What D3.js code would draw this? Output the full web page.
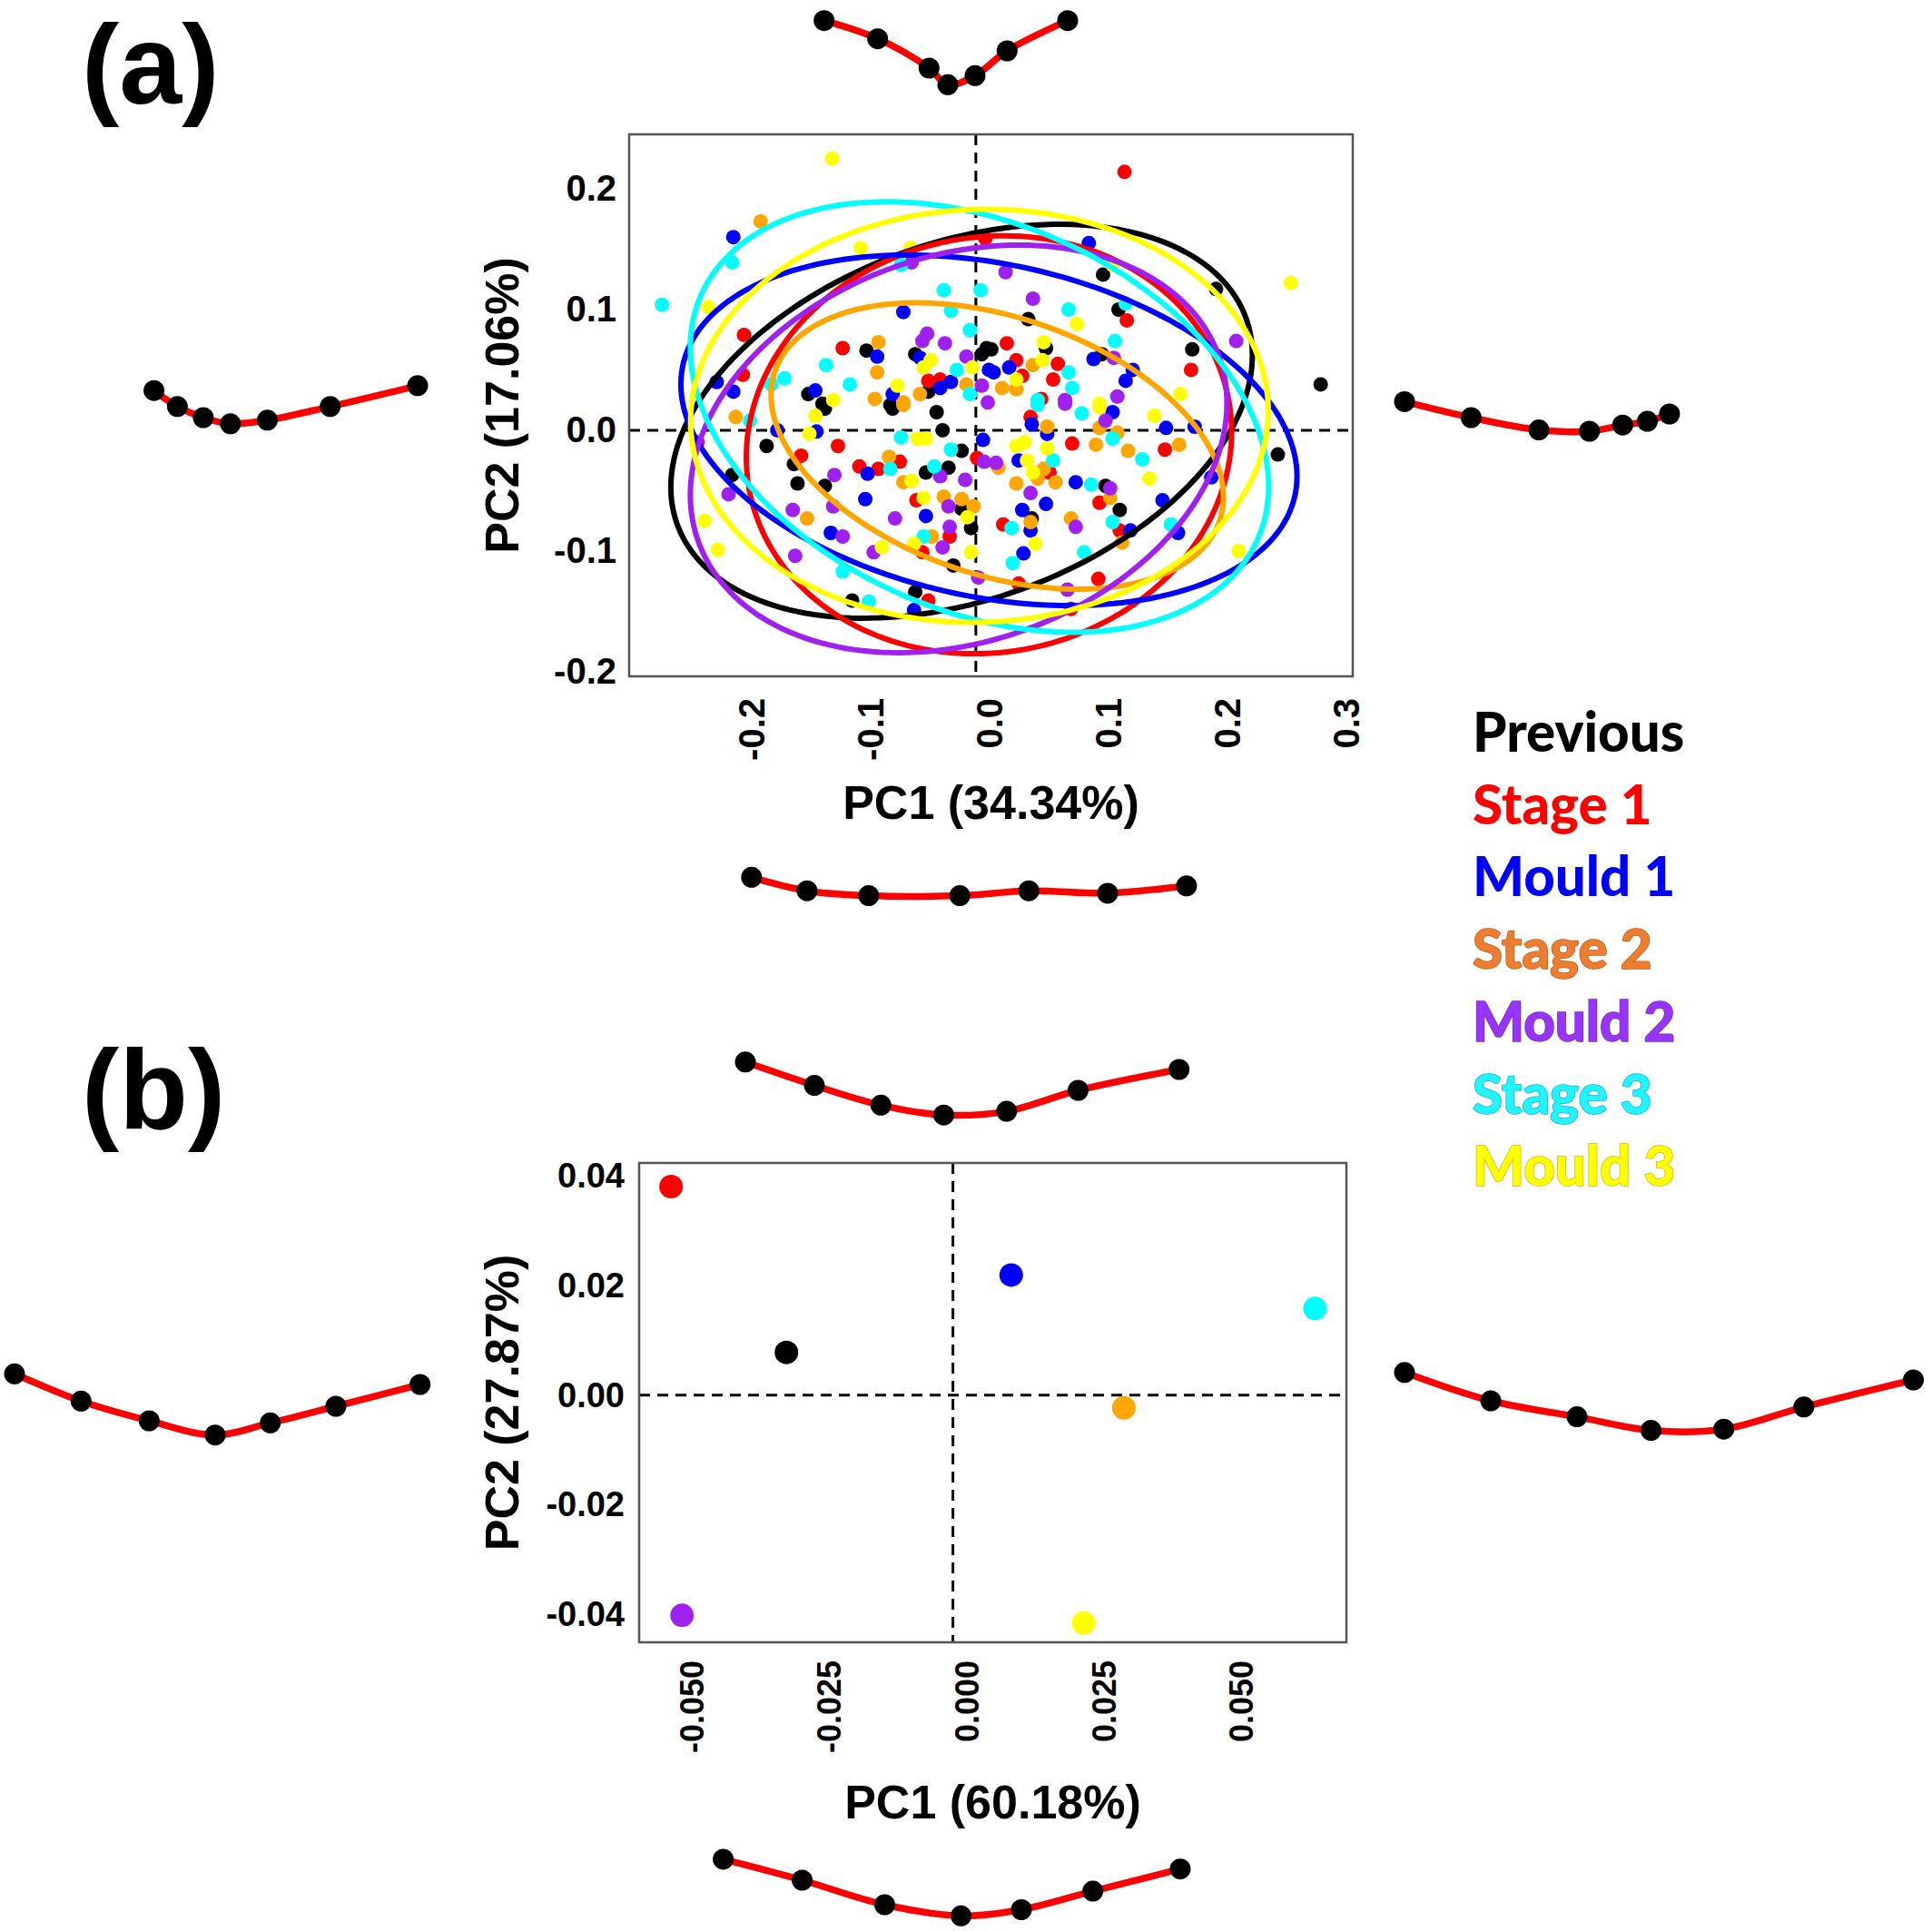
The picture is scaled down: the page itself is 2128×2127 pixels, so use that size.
<!DOCTYPE html>
<html>
<head>
<meta charset="utf-8">
<script src="https://cdn.jsdelivr.net/npm/d3@7/dist/d3.min.js"></script>
<style>
html,body{margin:0;padding:0;background:#ffffff;}
svg{display:block;}
</style>
</head>
<body>
<svg id="fig" width="2128" height="2127" xmlns="http://www.w3.org/2000/svg"></svg>
<script>
// ================= DATA =================
const groups = ["Previous", "Stage 1", "Mould 1", "Stage 2", "Mould 2", "Stage 3", "Mould 3"];
const groupColors = ["#000000", "#FF0000", "#0000FF", "#FFA500", "#A020F0", "#00FFFF", "#FFFF00"];
const legendFill = ["#000000", "#FF0000", "#0000FF", "#ED7D31", "#9933FF", "#22F5FF", "#FFFF00"];
const legendStroke = ["none", "none", "none", "#C55A11", "#7030A0", "#00B0F0", "#D4B800"];

// Panel (a): individual PCA scores [PC1, PC2]
const previousPts = [[-0.092,0.066],[-0.051,0.063],[0.009,0.068],[0.005,0.063],[-0.040,0.032],[-0.141,0.030],[-0.129,0.022],[-0.072,0.021],
  [0.290,0.038],[0.107,0.129],[0.202,0.117],[0.120,0.100],[0.044,0.092],[0.182,0.067],[0.106,0.063],[0.013,0.067],[0.059,0.068],
  [-0.127,0.018],[-0.070,0.018],[-0.033,0.015],[-0.028,0.000],[-0.176,-0.013],[-0.153,-0.028],[-0.012,-0.017],[-0.042,-0.035],[-0.023,-0.031],
  [-0.205,-0.037],[-0.150,-0.044],[-0.127,-0.046],[-0.012,-0.065],[-0.004,-0.081],[-0.019,-0.112],[-0.051,-0.134],[-0.104,-0.141],
  [0.254,-0.020],[0.109,-0.046],[0.121,-0.066],[0.047,-0.073]];
const stage1Pts = [[-0.195,0.079],[-0.112,0.068],[-0.196,0.046],[-0.040,0.041],[-0.030,0.042],[0.008,0.159],
  [0.125,0.214],[0.127,0.091],[0.181,0.050],[0.026,0.072],[0.034,0.058],[0.069,0.055],[0.065,0.042],[0.039,0.045],[0.055,0.026],
  [-0.116,-0.013],[-0.147,-0.021],[-0.064,-0.026],[0.001,-0.023],[-0.098,-0.030],[-0.082,-0.032],[-0.050,-0.058],[-0.022,-0.088],[-0.045,-0.101],[-0.040,-0.141],
  [0.046,0.011],[0.159,-0.016],[0.081,-0.011],[0.062,-0.035],[0.104,-0.060],[0.023,-0.078],[0.121,-0.083],[0.036,-0.127],[0.103,-0.123],[0.080,-0.148]];
const mould1Pts = [[-0.204,0.160],[-0.061,0.098],[-0.083,0.061],[-0.047,0.060],[0.011,0.050],[-0.218,0.040],[-0.204,0.032],[-0.021,0.040],[-0.030,0.035],[-0.135,0.033],[-0.070,0.030],
  [0.095,0.155],[0.099,0.059],[0.028,0.052],[0.015,0.048],[0.126,0.041],[0.132,0.050],
  [-0.167,0.000],[-0.134,-0.001],[0.006,-0.008],[-0.091,-0.036],[-0.093,-0.057],[-0.042,-0.071],[-0.122,-0.085],[-0.052,-0.149],
  [0.115,0.015],[0.047,0.005],[0.060,-0.003],[0.160,0.002],[0.184,0.003],[0.036,-0.025],[0.084,-0.043],[0.198,-0.039],[0.059,-0.061],[0.157,-0.058],
  [0.039,-0.066],[0.046,-0.083],[0.130,-0.083],[0.170,-0.085],[0.040,-0.102]];
const stage2Pts = [[-0.181,0.173],[-0.082,0.073],[-0.083,0.048],[-0.008,0.038],[-0.085,0.026],[-0.061,0.023],[-0.047,0.030],
  [0.048,0.054],[0.022,0.035],[0.034,0.034],
  [-0.202,0.011],[-0.061,0.021],[-0.073,-0.022],[-0.061,-0.043],[-0.027,-0.055],[-0.012,-0.057],[-0.002,-0.063],[-0.142,-0.073],[-0.037,-0.088],
  [0.060,0.003],[0.104,0.002],[0.119,-0.002],[0.101,-0.012],[0.128,-0.017],[0.171,-0.012],[0.019,-0.031],[0.057,-0.032],[0.052,-0.040],
  [0.067,-0.043],[0.034,-0.044],[0.113,-0.056],[0.046,-0.076],[0.080,-0.073],[0.123,-0.093]];
const mould2Pts = [[-0.054,0.139],[-0.041,0.080],[-0.045,0.074],[-0.026,0.072],[-0.008,0.061],[0.005,0.037],[0.010,0.023],
  [0.025,0.131],[0.048,0.109],[0.219,0.074],[0.116,0.060],[0.119,0.028],[0.075,0.025],
  [-0.234,-0.010],[0.007,-0.026],[-0.030,-0.038],[-0.009,-0.041],[-0.119,-0.037],[-0.208,-0.053],[-0.023,-0.063],[-0.154,-0.066],[-0.120,-0.063],
  [-0.068,-0.073],[-0.022,-0.080],[-0.112,-0.088],[-0.086,-0.101],[-0.028,-0.097],[-0.152,-0.104],[0.002,-0.122],
  [0.075,0.022],[0.109,0.008],[0.017,-0.027],[0.113,-0.048],[0.046,-0.052],[0.084,-0.080],[0.077,-0.132]];
const stage3Pts = [[-0.205,0.139],[-0.264,0.104],[-0.063,0.137],[-0.027,0.116],[0.004,0.116],[-0.021,0.099],[-0.005,0.083],[-0.126,0.054],[-0.016,0.050],
  [-0.172,0.038],[-0.161,0.043],[-0.106,0.038],[-0.005,0.030],
  [0.078,0.100],[0.126,0.105],[0.117,0.074],[0.078,0.048],[0.081,0.035],[0.052,0.025],
  [-0.190,0.008],[-0.063,-0.006],[-0.021,-0.016],[-0.072,-0.032],[-0.035,-0.030],[-0.044,-0.088],[-0.112,-0.117],[-0.090,-0.142],
  [0.052,0.021],[0.089,0.014],[0.115,-0.007],[0.140,-0.024],[0.065,-0.025],[0.097,-0.045],[0.030,-0.081],[0.115,-0.076],[0.164,-0.078],[0.091,-0.101],[0.031,-0.110]];
const mould3Pts = [[-0.121,0.225],[-0.225,0.102],[-0.097,0.151],[-0.055,0.151],[-0.038,0.058],[-0.044,0.052],[-0.003,0.052],[-0.066,0.037],[-0.120,0.025],
  [0.265,0.122],[0.115,0.137],[0.085,0.088],[0.057,0.073],[0.056,0.058],[0.034,0.042],[0.172,0.030],[0.104,0.022],
  [-0.135,0.012],[-0.140,-0.003],[-0.049,-0.007],[-0.042,-0.007],[-0.054,-0.042],[-0.044,-0.056],[-0.007,-0.072],[-0.228,-0.075],
  [-0.052,-0.094],[-0.079,-0.097],[-0.004,-0.101],[-0.217,-0.099],
  [0.104,0.019],[0.150,0.012],[0.041,-0.010],[0.034,-0.013],[0.060,-0.015],[0.043,-0.025],[0.048,-0.035],[0.146,-0.040],[0.050,-0.094],[0.221,-0.100]];
const scatterA = [previousPts, stage1Pts, mould1Pts, stage2Pts, mould2Pts, stage3Pts, mould3Pts];

// Panel (a): confidence ellipses (centre, semi-axes in PC units, rotation in degrees)
const ellipseCx    = [-0.012, 0.011, 0.011, 0.018, -0.0145, 0.003, 0.003];
const ellipseCy    = [0.0075, -0.012, 0.000, -0.013, -0.0154, 0.011, 0.012];
const ellipseA     = [0.254, 0.205, 0.263, 0.197, 0.232, 0.255, 0.243];
const ellipseB     = [0.148, 0.172, 0.138, 0.107, 0.160, 0.161, 0.171];
const ellipseAngle = [19.4, 10, -11.6, -18, 18.7, -22.8, 2];

// Panel (b): group mean scores
const pcaBx = [-0.0303, -0.0513, 0.0106, 0.0311, -0.0493, 0.0659, 0.0238];
const pcaBy = [0.0078, 0.0380, 0.0219, -0.0023, -0.0401, 0.0158, -0.0415];

// Axis ticks and titles
const ticksAX = [-0.2, -0.1, 0, 0.1, 0.2, 0.3];
const labelsAX = ["-0.2", "-0.1", "0.0", "0.1", "0.2", "0.3"];
const ticksAY = [-0.2, -0.1, 0, 0.1, 0.2];
const labelsAY = ["-0.2", "-0.1", "0.0", "0.1", "0.2"];
const ticksBX = [-0.05, -0.025, 0, 0.025, 0.05];
const labelsBX = ["-0.050", "-0.025", "0.000", "0.025", "0.050"];
const ticksBY = [-0.04, -0.02, 0, 0.02, 0.04];
const labelsBY = ["-0.04", "-0.02", "0.00", "0.02", "0.04"];
const titlesA = ["PC1 (34.34%)", "PC2 (17.06%)"];
const titlesB = ["PC1 (60.18%)", "PC2 (27.87%)"];
const panelLabels = ["(a)", "(b)"];

// Extreme shape configurations (7 landmarks, relative units, y downward)
const shapeATop    = [[0,0],[59,20],[115.6,52.3],[136.3,70.6],[166.3,60.6],[201.6,33.3],[268.3,0]];
const shapeALeft   = [[0,0],[25.8,17.6],[54.3,29.8],[84.2,36.6],[124.9,32.6],[194.1,17.6],[290.4,-5.4]];
const shapeARight  = [[0,0],[73.4,17.6],[148,31.2],[203.7,32.6],[240.3,25.8],[267.5,21.7],[291.9,13.6]];
const shapeABottom = [[0,0],[61.1,14.9],[129,20.3],[229.4,20.3],[305.4,14.9],[392.2,17.6],[479.1,9.5]];
const shapeBTop    = [[0,0],[76,25.8],[149.3,47.5],[218.5,58.4],[287.8,54.3],[366.5,31.2],[477.7,8.2]];
const shapeBLeft   = [[0,0],[73.3,30],[148.3,51.7],[221,67.4],[281.7,54],[354,35.7],[446.7,11.7]];
const shapeBRight  = [[0,0],[95,31.2],[190,48.8],[271.5,63.8],[351.6,62.4],[439.8,38],[560.5,8.2]];
const shapeBBottom = [[0,0],[86.9,23.1],[177.8,50.1],[261.9,62.4],[328.4,55.6],[407.1,35.2],[503.4,10.8]];

// ================= DRAWING =================
const svg = d3.select("#fig");
svg.append("rect").attr("width", 2128).attr("height", 2127).attr("fill", "#ffffff");
const AXF = "'Liberation Sans', Arial, Helvetica, sans-serif";

function drawPanel(cfg) {
  const x = d3.scaleLinear().domain(cfg.xDomain).range([cfg.left, cfg.right]);
  const y = d3.scaleLinear().domain(cfg.yDomain).range([cfg.bottom, cfg.top]);
  const g = svg.append("g");

  // zero reference lines
  g.append("line").attr("x1", cfg.left).attr("x2", cfg.right).attr("y1", y(0)).attr("y2", y(0))
    .attr("stroke", "#000").attr("stroke-width", 3).attr("stroke-dasharray", "12,8");
  g.append("line").attr("x1", x(0)).attr("x2", x(0)).attr("y1", cfg.top).attr("y2", cfg.bottom)
    .attr("stroke", "#000").attr("stroke-width", 3).attr("stroke-dasharray", "12,8");

  cfg.draw(g, x, y);

  // frame
  g.append("rect").attr("x", cfg.left).attr("y", cfg.top)
    .attr("width", cfg.right - cfg.left).attr("height", cfg.bottom - cfg.top)
    .attr("fill", "none").attr("stroke", "#555").attr("stroke-width", 2.5);

  // x axis (rotated labels)
  const xa = g.append("g").attr("transform", `translate(0,${cfg.bottom})`)
    .call(d3.axisBottom(x).tickValues(cfg.xTicks)
      .tickFormat(d => cfg.xLabels[cfg.xTicks.indexOf(d)]).tickSize(0));
  xa.select(".domain").remove();
  xa.selectAll("text")
    .attr("font-family", AXF).attr("font-weight", "bold").attr("font-size", cfg.xFont).attr("fill", "#000")
    .attr("transform", "rotate(-90)").attr("text-anchor", "end")
    .attr("x", -cfg.xGap).attr("y", cfg.xShift).attr("dy", "0.35em");

  // y axis
  const ya = g.append("g").attr("transform", `translate(${cfg.left},0)`)
    .call(d3.axisLeft(y).tickValues(cfg.yTicks)
      .tickFormat(d => cfg.yLabels[cfg.yTicks.indexOf(d)]).tickSize(0).tickPadding(cfg.yGap));
  ya.select(".domain").remove();
  ya.selectAll("text")
    .attr("font-family", AXF).attr("font-weight", "bold").attr("font-size", cfg.yFont).attr("fill", "#000");

  // titles
  g.append("text").attr("x", (cfg.left + cfg.right) / 2).attr("y", cfg.xTitleBase)
    .attr("text-anchor", "middle").attr("font-family", AXF).attr("font-weight", "bold")
    .attr("font-size", 52).attr("fill", "#000").text(cfg.titles[0]);
  g.append("text").attr("transform", `translate(${cfg.yTitleBase},${(cfg.top + cfg.bottom) / 2}) rotate(-90)`)
    .attr("text-anchor", "middle").attr("font-family", AXF).attr("font-weight", "bold")
    .attr("font-size", 52).attr("fill", "#000").text(cfg.titles[1]);
}

// Panel (a)
drawPanel({
  left: 693, right: 1490, top: 148, bottom: 745,
  xDomain: [-0.2916, 0.317], yDomain: [-0.2038, 0.2451],
  xTicks: ticksAX, xLabels: labelsAX, yTicks: ticksAY, yLabels: labelsAY,
  xFont: 40, yFont: 40, xGap: 24, xShift: 15, yGap: 14,
  titles: titlesA, xTitleBase: 902, yTitleBase: 571,
  draw: (g, x, y) => {
    scatterA.forEach((pts, gi) => {
      g.append("g").selectAll("circle").data(pts).join("circle")
        .attr("cx", d => x(d[0])).attr("cy", d => y(d[1])).attr("r", 8)
        .attr("fill", groupColors[gi]);
    });
    const ts = d3.range(0, 360, 2).map(t => t * Math.PI / 180);
    const line = d3.line().x(p => x(p[0])).y(p => y(p[1])).curve(d3.curveLinearClosed);
    groups.forEach((gname, gi) => {
      const th = ellipseAngle[gi] * Math.PI / 180, c = Math.cos(th), s = Math.sin(th);
      const a = ellipseA[gi], b = ellipseB[gi];
      const pts = ts.map(t => [
        ellipseCx[gi] + a * Math.cos(t) * c - b * Math.sin(t) * s,
        ellipseCy[gi] + a * Math.cos(t) * s + b * Math.sin(t) * c]);
      g.append("path").attr("d", line(pts)).attr("fill", "none")
        .attr("stroke", groupColors[gi]).attr("stroke-width", 6);
    });
  }
});

// Panel (b)
drawPanel({
  left: 704, right: 1483, top: 1281, bottom: 1809,
  xDomain: [-0.0571, 0.0716], yDomain: [-0.0450, 0.0423],
  xTicks: ticksBX, xLabels: labelsBX, yTicks: ticksBY, yLabels: labelsBY,
  xFont: 36, yFont: 38, xGap: 20, xShift: 15, yGap: 16,
  titles: titlesB, xTitleBase: 2003, yTitleBase: 571,
  draw: (g, x, y) => {
    g.append("g").selectAll("circle").data(groups).join("circle")
      .attr("cx", (d, i) => x(pcaBx[i])).attr("cy", (d, i) => y(pcaBy[i])).attr("r", 13)
      .attr("fill", (d, i) => groupColors[i]);
  }
});

// Panel labels
svg.selectAll("text.plabel").data(panelLabels).join("text").attr("class", "plabel")
  .attr("x", 90).attr("y", (d, i) => [114, 1243][i])
  .attr("font-family", AXF).attr("font-weight", "bold").attr("font-size", 124).attr("fill", "#000")
  .text(d => d);

// Legend
svg.append("g").selectAll("text").data(groups).join("text")
  .attr("x", 1622).attr("y", (d, i) => 828 + i * 79.7)
  .attr("font-family", "Lato, 'Open Sans', sans-serif").attr("font-weight", 900).attr("font-size", 60)
  .attr("fill", (d, i) => legendFill[i])
  .attr("stroke", (d, i) => legendStroke[i]).attr("stroke-width", 1.5).attr("paint-order", "stroke")
  .text(d => d);

// Extreme shapes
function drawShape(pts, ox, oy) {
  const sx = d3.scaleLinear().domain([0, 100]).range([ox, ox + 100]);
  const sy = d3.scaleLinear().domain([0, 100]).range([oy, oy + 100]);
  const g = svg.append("g");
  g.append("path").attr("d", d3.line().x(p => sx(p[0])).y(p => sy(p[1])).curve(d3.curveCatmullRom)(pts))
    .attr("fill", "none").attr("stroke", "#FF0000").attr("stroke-width", 7.5).attr("stroke-linecap", "round");
  g.selectAll("circle").data(pts).join("circle")
    .attr("cx", p => sx(p[0])).attr("cy", p => sy(p[1])).attr("r", 11.5).attr("fill", "#000");
}
drawShape(shapeATop, 907.7, 22.7);
drawShape(shapeALeft, 169.6, 430.2);
drawShape(shapeARight, 1547, 442.4);
drawShape(shapeABottom, 827.8, 966.3);
drawShape(shapeBTop, 821, 1169.8);
drawShape(shapeBLeft, 16, 1513.3);
drawShape(shapeBRight, 1547, 1511.8);
drawShape(shapeBBottom, 796.6, 2047.9);
</script>
</body>
</html>
